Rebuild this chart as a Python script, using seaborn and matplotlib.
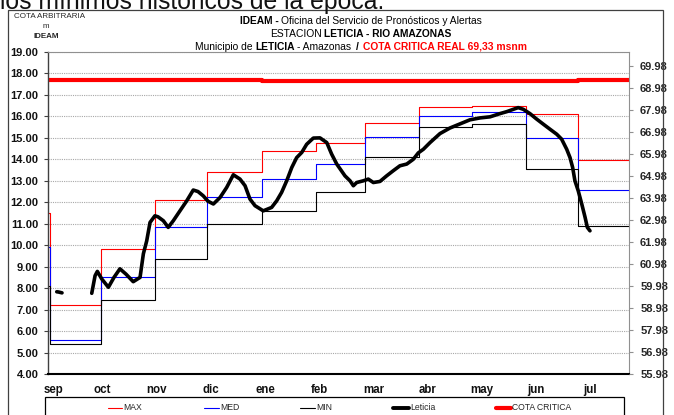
import numpy as np
import pandas as pd
import matplotlib
matplotlib.use("Agg")
import matplotlib.pyplot as plt
import matplotlib.transforms as mtransforms
from matplotlib.lines import Line2D
from matplotlib.patches import Rectangle
import seaborn as sns

# ---------------------------------------------------------------- data
meses = ["sep", "oct", "nov", "dic", "ene", "feb", "mar", "abr", "may", "jun", "jul"]
ticks_dias = [0, 31, 62, 93, 124, 155, 186, 217, 248, 279, 310]

# day (counted from 1 Sep) where each monthly statistic starts;
# first entry carries the August value, last one closes the series
inicio_mes = [0, 1, 30, 61, 91, 122, 153, 181, 212, 242, 273, 303, 332]
cota_max = [11.5, 7.2, 9.8, 12.1, 13.4, 14.4, 14.75, 15.7, 16.45, 16.5, 16.13, 13.95, 13.95]
cota_med = [9.9, 5.6, 8.5, 10.85, 12.25, 13.1, 13.8, 15.06, 16.0, 16.2, 15.0, 12.57, 12.57]
cota_min = [8.1, 5.4, 7.45, 9.37, 11.0, 11.6, 12.5, 14.13, 15.5, 15.65, 13.55, 10.9, 10.9]

# critical level line
dias_critica = [0, 122, 303, 332]
cota_critica = [17.71, 17.66, 17.71, 17.71]

# daily level at Leticia (two recorded stretches)
dias_let_a = [5, 6, 7, 8]
nivel_let_a = [7.83, 7.82, 7.80, 7.78]

dias_let_b = [25.0, 26.9, 28.2, 30.7, 34.5, 37.7, 41.1, 44.6, 48.7, 52.6, 54.5, 56.4,
              58.3, 61.1, 62.9, 65.9, 68.7, 71.6, 75.4, 79.3, 83.0, 85.7, 88.7, 91.4,
              94.5, 98.3, 102.1, 105.9, 109.7, 112.6, 115.4, 118.3, 123.0, 127.8, 130.7,
              133.5, 136.4, 139.3, 142.1, 145.0, 147.8, 151.6, 155.4, 159.3, 162.1,
              165.0, 169.7, 172.6, 174.5, 176.4, 180.2, 183.0, 185.9, 189.7, 193.5,
              197.3, 201.1, 205.0, 208.7, 211.6, 214.5, 218.3, 224.0, 229.7, 235.4,
              241.1, 246.9, 252.6, 258.3, 262.1, 265.9, 268.7, 271.6, 275.4, 279.3,
              283.0, 286.9, 290.7, 293.5, 296.4, 298.3, 299.8, 301.1, 303.0, 305.0,
              306.9, 308.2, 309.7]
nivel_let_b = [7.76, 8.58, 8.78, 8.43, 8.04, 8.5, 8.9, 8.65, 8.3, 8.5, 9.6, 10.2,
               11.06, 11.37, 11.32, 11.14, 10.83, 11.14, 11.6, 12.07, 12.57, 12.5, 12.3, 12.05,
               11.92, 12.22, 12.69, 13.28, 13.08, 12.77, 12.15, 11.84, 11.6, 11.76, 12.07,
               12.46, 13.0, 13.62, 14.08, 14.32, 14.7, 14.99, 15.0, 14.78, 14.24,
               13.78, 13.23, 13.0, 12.77, 12.92, 13.0, 13.08, 12.92, 12.97, 13.23,
               13.47, 13.7, 13.78, 14.0, 14.3, 14.47, 14.78, 15.2, 15.46, 15.65,
               15.84, 15.93, 15.98, 16.13, 16.22, 16.33, 16.41, 16.33, 16.13, 15.87,
               15.64, 15.4, 15.17, 14.94, 14.47, 14.08, 13.62, 13.0, 12.53, 11.92,
               11.3, 10.83, 10.67]

cotas_izq = [4, 5, 6, 7, 8, 9, 10, 11, 12, 13, 14, 15, 16, 17, 18, 19]
cotas_der = [55.98, 56.98, 57.98, 58.98, 59.98, 60.98, 61.98, 62.98, 63.98,
             64.98, 65.98, 66.98, 67.98, 68.98, 69.98]

# ---------------------------------------------------------------- style
sns.set_style("white")
plt.rcParams["font.family"] = ["Liberation Sans", "DejaVu Sans"]

W, H = 674, 415
fig = plt.figure(figsize=(W / 100, H / 100), dpi=100)


def fx(px):
    return px / W


def fy(py):
    return 1 - py / H


ax = fig.add_axes([fx(48), fy(374), fx(629) - fx(48), fy(52) - fy(374)])

estad = pd.DataFrame({"dia": inicio_mes, "MAX": cota_max, "MED": cota_med, "MIN": cota_min})
sns.lineplot(data=estad, x="dia", y="MAX", ax=ax, color="#ff0000", lw=0.8,
             drawstyle="steps-post", sort=False)
sns.lineplot(data=estad, x="dia", y="MED", ax=ax, color="#0000ff", lw=0.8,
             drawstyle="steps-post", sort=False)
sns.lineplot(data=estad, x="dia", y="MIN", ax=ax, color="#000000", lw=0.8,
             drawstyle="steps-post", sort=False)

critica = pd.DataFrame({"dia": dias_critica, "cota": cota_critica})
sns.lineplot(data=critica, x="dia", y="cota", ax=ax, color="#ff0000", lw=3.0,
             drawstyle="steps-post", sort=False)

let_a = pd.DataFrame({"dia": dias_let_a, "nivel": nivel_let_a})
let_b = pd.DataFrame({"dia": dias_let_b, "nivel": nivel_let_b})
for tramo in (let_a, let_b):
    sns.lineplot(data=tramo, x="dia", y="nivel", ax=ax, color="#000000", lw=2.6,
                 sort=False, solid_joinstyle="round", solid_capstyle="round")

ax.set_xlim(0, 332)
ax.set_ylim(4, 19)
ax.set_xticks(ticks_dias)
ax.set_xticklabels(meses, fontsize=8.3, fontweight="bold")
ax.set_yticks(cotas_izq)
ax.set_yticklabels([f"{v:.2f}" for v in cotas_izq], fontsize=8, fontweight="bold")
ax.set_xlabel("")
ax.set_ylabel("")
ax.yaxis.grid(True, color="#a8a8a8", linestyle=(0, (1, 1)), lw=0.8)
ax.xaxis.grid(False)
ax.tick_params(axis="y", direction="out", length=3, width=0.8, pad=4, color="#404040")
ax.tick_params(axis="x", direction="out", length=4, width=0.8, pad=3, color="#000000")
for lado, col, lw in (("top", "#909090", 0.8), ("right", "#909090", 0.8),
                      ("left", "#404040", 1.0), ("bottom", "#000000", 1.5)):
    ax.spines[lado].set_visible(True)
    ax.spines[lado].set_color(col)
    ax.spines[lado].set_linewidth(lw)
for lbl in ax.get_yticklabels() + ax.get_xticklabels():
    lbl.set_color("#111111")
# first month label sits a little to the right of its tick
primera = ax.get_xticklabels()[0]
primera.set_transform(primera.get_transform() +
                      mtransforms.ScaledTranslation(5 / 100, 0, fig.dpi_scale_trans))

ax2 = ax.twinx()
ax2.set_ylim(55.98, 70.61)
ax2.set_yticks(cotas_der)
ax2.set_yticklabels([f"{v:.2f}" for v in cotas_der], fontsize=8, fontweight="bold")
ax2.tick_params(axis="y", direction="out", length=3, width=0.8, pad=5, color="#909090")
ax2.grid(False)
for lado in ("top", "right", "left", "bottom"):
    ax2.spines[lado].set_visible(False)

# ---------------------------------------------------------------- frame and texts
fig.add_artist(Rectangle((fx(8), fy(425)), fx(663) - fx(8), fy(10) - fy(425),
                         transform=fig.transFigure, fill=False, ec="#404040", lw=0.9))

fig.text(fx(0), fy(8.5), "los mínimos históricos de la época.", fontsize=17.8,
         va="baseline", ha="left", color="#111111")

fig.text(fx(49.5), fy(16), "COTA ARBITRARIA", fontsize=5.8, ha="center", va="center")
fig.text(fx(46), fy(27), "m", fontsize=5.8, ha="center", va="center")
fig.text(fx(46), fy(36), "IDEAM", fontsize=5.8, ha="center", va="center", fontweight="bold")


def linea_rica(y_px, partes, cx_px, size):
    """Draw a line made of differently styled pieces, centred on cx_px."""
    r = fig.canvas.get_renderer()
    objs = []
    for txt, peso, color, hueco in partes:
        t = fig.text(0, fy(y_px), txt, fontsize=size, fontweight=peso, color=color,
                     va="center", ha="left")
        objs.append((t, hueco))
    anchos = [t.get_window_extent(r).width for t, _ in objs]
    total = sum(anchos) + sum(h for _, h in objs[:-1])
    x = cx_px - total / 2
    for (t, hueco), w in zip(objs, anchos):
        t.set_x(fx(x))
        x += w + hueco


linea_rica(21, [("IDEAM -", "bold", "black", 3),
                ("Oficina del Servicio de Pronósticos y Alertas", "normal", "black", 0)],
           361, 7.4)
linea_rica(34, [("ESTACION", "normal", "black", 2),
                ("LETICIA - RIO AMAZONAS", "bold", "black", 0)],
           361, 7.4)
linea_rica(46.5, [("Municipio de", "normal", "black", 3),
                  ("LETICIA", "bold", "black", 2),
                  ("- Amazonas", "normal", "black", 5),
                  ("/", "bold", "black", 4),
                  ("COTA CRITICA REAL 69,33 msnm", "bold", "#ff0000", 0)],
           361, 7.4)

# legend
fig.add_artist(Rectangle((fx(45), fy(425)), fx(624) - fx(45), fy(397) - fy(425),
                         transform=fig.transFigure, fill=False, ec="#000000", lw=0.9))
entradas = [("MAX", "#ff0000", 0.8, 108, 122),
            ("MED", "#0000ff", 0.8, 204, 219),
            ("MIN", "#000000", 0.8, 300, 315),
            ("Leticia", "#000000", 2.8, 393, 409),
            ("COTA CRITICA", "#ff0000", 3.0, 496, 511)]
for nombre, col, lw, x0, x1 in entradas:
    fig.add_artist(Line2D([fx(x0), fx(x1)], [fy(407.5), fy(407.5)], color=col, lw=lw,
                          transform=fig.transFigure))
    fig.text(fx(x1 + 1), fy(407.5), nombre, fontsize=6.2, va="center", ha="left")

fig.savefig("out.png", dpi=100)
